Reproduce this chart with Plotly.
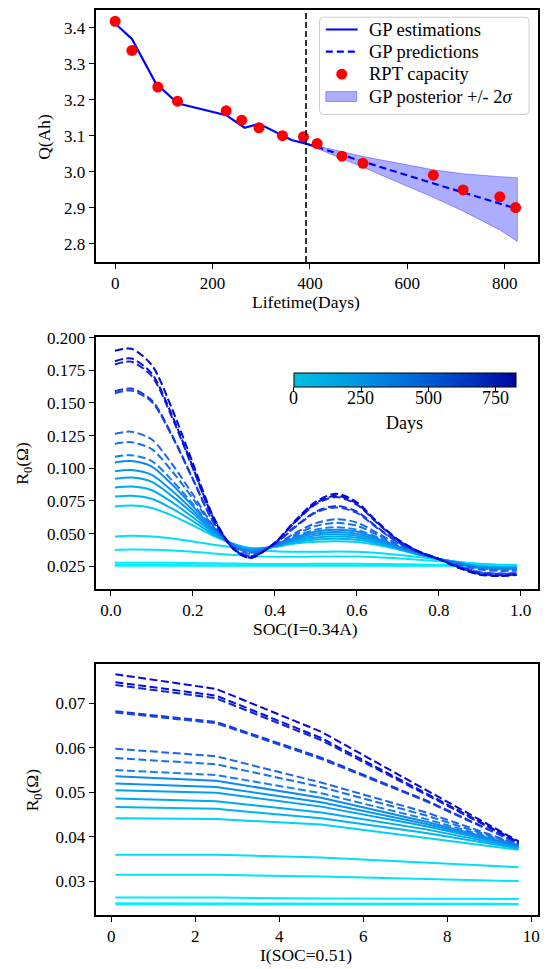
import plotly.graph_objects as go
from plotly.colors import sample_colorscale

W, H = 551, 969
FONT = "Liberation Serif, Times New Roman, Times, serif"
TICK_SIZE = 17
LABEL_SIZE = 17.5
LEGEND_SIZE = 18.5
CBAR_SIZE = 18

# ---------------- Panel 1 data ----------------
rpt_days = [0, 34.5, 87.7, 128, 228, 260, 295.5, 343.6, 386.8, 414.8, 465.8, 509, 653.5, 714.6, 790, 822.4]
rpt_q = [3.418, 3.337, 3.235, 3.196, 3.169, 3.143, 3.122, 3.100, 3.097, 3.078, 3.043, 3.023, 2.990, 2.949, 2.930, 2.900]

est_days = [0, 34.5, 83, 128, 228, 266, 296, 344, 362, 392]
est_q = [3.412, 3.369, 3.247, 3.190, 3.157, 3.122, 3.133, 3.099, 3.088, 3.078]

pred_days = [392, 415, 466, 509, 654, 715, 790, 822]
pred_q = [3.078, 3.068, 3.047, 3.028, 2.967, 2.942, 2.912, 2.898]

band_days = [392, 415, 466, 509, 654, 715, 790, 826]
band_upper = [3.079, 3.072, 3.056, 3.042, 3.005, 2.994, 2.986, 2.983]
band_lower = [3.077, 3.063, 3.036, 3.012, 2.928, 2.890, 2.838, 2.806]

split_day = 392

legend_labels = ["GP estimations", "GP predictions", "RPT capacity", "GP posterior +/- 2<i>σ</i>"]

# ---------------- Curves (days, solid = estimation, dashed = prediction) ----------------
curve_days = [0, 15, 35, 60, 88, 128, 228, 260, 296, 344, 387,
              415, 466, 509, 600, 654, 715, 790, 822]
curve_dashed = [False] * 11 + [True] * 8

soc = [0.01, 0.05, 0.10, 0.15, 0.20, 0.25, 0.30, 0.34, 0.40, 0.45, 0.50,
       0.55, 0.60, 0.65, 0.70, 0.75, 0.80, 0.85, 0.90, 0.95, 0.99]

r0_soc = [
    [0.0254, 0.0254, 0.0254, 0.0254, 0.0254, 0.0254, 0.0254, 0.0254, 0.0254, 0.0254, 0.0254, 0.0254, 0.0254, 0.0253, 0.0253, 0.0253, 0.0253, 0.0253, 0.0252, 0.0252, 0.0252],
    [0.0259, 0.0259, 0.0259, 0.0259, 0.0258, 0.0258, 0.0258, 0.0257, 0.0257, 0.0257, 0.0257, 0.0257, 0.0257, 0.0257, 0.0256, 0.0256, 0.0256, 0.0255, 0.0255, 0.0254, 0.0254],
    [0.0276, 0.0277, 0.0277, 0.0276, 0.0274, 0.0272, 0.0270, 0.0268, 0.0267, 0.0267, 0.0268, 0.0269, 0.0268, 0.0267, 0.0265, 0.0263, 0.0261, 0.0259, 0.0257, 0.0256, 0.0256],
    [0.0375, 0.0377, 0.0376, 0.0370, 0.0360, 0.0348, 0.0336, 0.0328, 0.0322, 0.0322, 0.0324, 0.0325, 0.0324, 0.0319, 0.0311, 0.0300, 0.0288, 0.0277, 0.0268, 0.0262, 0.0260],
    [0.0478, 0.0483, 0.0478, 0.0462, 0.0440, 0.0415, 0.0393, 0.0378, 0.0365, 0.0361, 0.0361, 0.0362, 0.0360, 0.0352, 0.0338, 0.0320, 0.0300, 0.0282, 0.0266, 0.0258, 0.0256],
    [0.0708, 0.0714, 0.0696, 0.0637, 0.0562, 0.0482, 0.0420, 0.0390, 0.0397, 0.0424, 0.0438, 0.0442, 0.0436, 0.0413, 0.0379, 0.0339, 0.0305, 0.0280, 0.0252, 0.0245, 0.0246],
    [0.0783, 0.0790, 0.0767, 0.0690, 0.0595, 0.0494, 0.0418, 0.0385, 0.0399, 0.0434, 0.0455, 0.0460, 0.0452, 0.0424, 0.0384, 0.0341, 0.0305, 0.0278, 0.0249, 0.0242, 0.0243],
    [0.0852, 0.0860, 0.0832, 0.0738, 0.0625, 0.0505, 0.0416, 0.0380, 0.0401, 0.0443, 0.0470, 0.0477, 0.0468, 0.0434, 0.0389, 0.0343, 0.0305, 0.0276, 0.0246, 0.0239, 0.0240],
    [0.0920, 0.0929, 0.0896, 0.0785, 0.0655, 0.0516, 0.0414, 0.0375, 0.0403, 0.0452, 0.0486, 0.0495, 0.0484, 0.0444, 0.0394, 0.0345, 0.0305, 0.0274, 0.0243, 0.0236, 0.0237],
    [0.0978, 0.0987, 0.0950, 0.0826, 0.0680, 0.0525, 0.0412, 0.0370, 0.0405, 0.0460, 0.0500, 0.0512, 0.0499, 0.0453, 0.0398, 0.0347, 0.0305, 0.0272, 0.0240, 0.0233, 0.0234],
    [0.1045, 0.1055, 0.1013, 0.0874, 0.0710, 0.0535, 0.0410, 0.0364, 0.0407, 0.0470, 0.0516, 0.0530, 0.0515, 0.0463, 0.0402, 0.0349, 0.0305, 0.0270, 0.0237, 0.0230, 0.0231],
    [0.1088, 0.1100, 0.1055, 0.0905, 0.0728, 0.0540, 0.0408, 0.0360, 0.0408, 0.0478, 0.0530, 0.0548, 0.0530, 0.0472, 0.0406, 0.0350, 0.0305, 0.0268, 0.0234, 0.0226, 0.0227],
    [0.1187, 0.1200, 0.1146, 0.0975, 0.0770, 0.0552, 0.0403, 0.0352, 0.0410, 0.0493, 0.0558, 0.0582, 0.0560, 0.0490, 0.0414, 0.0353, 0.0305, 0.0265, 0.0229, 0.0220, 0.0221],
    [0.1265, 0.1280, 0.1220, 0.1030, 0.0800, 0.0560, 0.0400, 0.0345, 0.0410, 0.0505, 0.0580, 0.0610, 0.0585, 0.0505, 0.0420, 0.0355, 0.0305, 0.0262, 0.0224, 0.0214, 0.0216],
    [0.1575, 0.1595, 0.1508, 0.1242, 0.0915, 0.0588, 0.0386, 0.0326, 0.0419, 0.0550, 0.0660, 0.0700, 0.0658, 0.0542, 0.0433, 0.0357, 0.0305, 0.0250, 0.0204, 0.0194, 0.0198],
    [0.1590, 0.1610, 0.1520, 0.1250, 0.0920, 0.0590, 0.0385, 0.0325, 0.0420, 0.0555, 0.0668, 0.0712, 0.0668, 0.0548, 0.0436, 0.0358, 0.0305, 0.0248, 0.0202, 0.0192, 0.0196],
    [0.1795, 0.1815, 0.1705, 0.1385, 0.1000, 0.0615, 0.0380, 0.0316, 0.0426, 0.0588, 0.0725, 0.0780, 0.0722, 0.0580, 0.0450, 0.0363, 0.0305, 0.0240, 0.0190, 0.0180, 0.0186],
    [0.1820, 0.1840, 0.1725, 0.1400, 0.1010, 0.0620, 0.0380, 0.0315, 0.0428, 0.0592, 0.0733, 0.0790, 0.0730, 0.0585, 0.0452, 0.0364, 0.0305, 0.0238, 0.0188, 0.0178, 0.0184],
    [0.1900, 0.1915, 0.1790, 0.1450, 0.1040, 0.0630, 0.0380, 0.0312, 0.0430, 0.0600, 0.0745, 0.0805, 0.0740, 0.0590, 0.0455, 0.0365, 0.0305, 0.0235, 0.0185, 0.0175, 0.0182],
]

current = [0.1, 2.5, 5.0, 7.5, 9.7]
r0_cur = [
    [0.0249, 0.0249, 0.0249, 0.0249, 0.0249],
    [0.0251, 0.0251, 0.0251, 0.0250, 0.0250],
    [0.0264, 0.0264, 0.0262, 0.0262, 0.0261],
    [0.0315, 0.0315, 0.0311, 0.0305, 0.0301],
    [0.0360, 0.0360, 0.0354, 0.0342, 0.0332],
    [0.0442, 0.0440, 0.0428, 0.0398, 0.0371],
    [0.0467, 0.0463, 0.0442, 0.0409, 0.0374],
    [0.0486, 0.0480, 0.0455, 0.0417, 0.0376],
    [0.0505, 0.0499, 0.0468, 0.0424, 0.0378],
    [0.0520, 0.0512, 0.0478, 0.0429, 0.0379],
    [0.0536, 0.0526, 0.0488, 0.0434, 0.0380],
    [0.0550, 0.0539, 0.0498, 0.0440, 0.0381],
    [0.0577, 0.0563, 0.0512, 0.0448, 0.0382],
    [0.0598, 0.0581, 0.0522, 0.0455, 0.0383],
    [0.0679, 0.0655, 0.0575, 0.0480, 0.0385],
    [0.0682, 0.0658, 0.0578, 0.0482, 0.0386],
    [0.0741, 0.0711, 0.0617, 0.0495, 0.0387],
    [0.0747, 0.0717, 0.0622, 0.0498, 0.0388],
    [0.0765, 0.0732, 0.0636, 0.0505, 0.0390],
]

cbar_ticks = [0, 250, 500, 750]
day_max = 826

# ---------------- styling ----------------
line_scale = [[0.0, "#00f2ff"], [0.1, "#00e0f8"], [0.2, "#00c4f2"], [0.35, "#00a2f0"],
              [0.5, "#1580f0"], [0.65, "#1e5eec"], [0.8, "#1538e4"], [1.0, "#0505d8"]]
bar_scale = [[0.0, "#00c0e0"], [0.33, "#0090e4"], [0.66, "#0050d0"], [1.0, "#0008a0"]]
BAND_FILL = "rgba(0,0,255,0.32)"
BAND_EDGE = "rgba(0,0,255,0.35)"


def px_x(p):
    return p / W


def px_y(p):
    return 1 - p / H


left, right = 96, 539.5
dom_x = [px_x(left), px_x(right)]
dom_y1 = [px_y(256), px_y(2.4)]
dom_y2 = [px_y(585.5), px_y(331.5)]
dom_y3 = [px_y(914.5), px_y(661)]

fig = go.Figure()

# Panel 1
fig.add_trace(go.Scatter(
    x=band_days + band_days[::-1], y=band_upper + band_lower[::-1],
    fill="toself", fillcolor=BAND_FILL, mode="lines",
    line=dict(color=BAND_EDGE, width=1), showlegend=False, xaxis="x", yaxis="y"))
fig.add_trace(go.Scatter(
    x=est_days, y=est_q, mode="lines", line=dict(color="#0000ff", width=2.2),
    showlegend=False, xaxis="x", yaxis="y"))
fig.add_trace(go.Scatter(
    x=pred_days, y=pred_q, mode="lines", line=dict(color="#0000ff", width=2.2, dash="7px,4px"),
    showlegend=False, xaxis="x", yaxis="y"))
fig.add_trace(go.Scatter(
    x=rpt_days, y=rpt_q, mode="markers", marker=dict(color="#ff0000", size=11),
    showlegend=False, xaxis="x", yaxis="y"))

fig.add_shape(type="line", xref="x", yref="paper", x0=split_day, x1=split_day,
              y0=dom_y1[0], y1=dom_y1[1], line=dict(color="black", width=1.6, dash="6px,3px"))

# Panels 2 and 3
for i, d in enumerate(curve_days):
    col = sample_colorscale(line_scale, [d / day_max])[0]
    dash = "8px,3.5px" if curve_dashed[i] else "solid"
    fig.add_trace(go.Scatter(
        x=soc, y=r0_soc[i], mode="lines", line=dict(color=col, width=2, dash=dash, shape="spline", smoothing=0.8),
        showlegend=False, xaxis="x2", yaxis="y2", hoverinfo="skip"))
    fig.add_trace(go.Scatter(
        x=current, y=r0_cur[i], mode="lines", line=dict(color=col, width=2, dash=dash),
        showlegend=False, xaxis="x3", yaxis="y3", hoverinfo="skip"))

# colorbar (gradient + ticks; labels as annotations below)
cb_left, cb_len = 295, 222.3
fig.add_trace(go.Scatter(
    x=[0.5, 0.5], y=[0.1, 0.1], mode="markers", xaxis="x2", yaxis="y2", showlegend=False,
    hoverinfo="skip",
    marker=dict(size=0.1, opacity=0, color=[0, day_max], cmin=0, cmax=day_max,
                colorscale=bar_scale, showscale=True,
                colorbar=dict(orientation="h", x=px_x(cb_left), xanchor="left", y=px_y(368.3), yanchor="top",
                              lenmode="pixels", len=cb_len, thickness=14, thicknessmode="pixels",
                              outlinewidth=1, outlinecolor="black",
                              tickvals=cbar_ticks, ticks="outside", ticklen=5, tickwidth=1.3,
                              tickcolor="black", showticklabels=False,
                              xpad=0, ypad=0))))
for t in cbar_ticks:
    fig.add_annotation(xref="paper", yref="paper", showarrow=False, xanchor="center", yanchor="middle",
                       x=px_x(cb_left + t / day_max * cb_len), y=px_y(393.5), text=str(t),
                       font=dict(family=FONT, size=CBAR_SIZE, color="black"))
fig.add_annotation(xref="paper", yref="paper", showarrow=False, xanchor="center", yanchor="middle",
                   x=px_x(cb_left + cb_len / 2), y=px_y(418), text="Days",
                   font=dict(family=FONT, size=CBAR_SIZE, color="black"))

# manual legend
lg_l, lg_r, lg_t, lg_b, rad = 320.7, 531, 9.3, 107.3, 4


def rounded_rect(x0, y0, x1, y1, r):
    X = px_x
    Y = px_y
    return (f"M {X(x0 + r)},{Y(y0)} L {X(x1 - r)},{Y(y0)} Q {X(x1)},{Y(y0)} {X(x1)},{Y(y0 + r)} "
            f"L {X(x1)},{Y(y1 - r)} Q {X(x1)},{Y(y1)} {X(x1 - r)},{Y(y1)} "
            f"L {X(x0 + r)},{Y(y1)} Q {X(x0)},{Y(y1)} {X(x0)},{Y(y1 - r)} "
            f"L {X(x0)},{Y(y0 + r)} Q {X(x0)},{Y(y0)} {X(x0 + r)},{Y(y0)} Z")


fig.add_shape(type="path", xref="paper", yref="paper", path=rounded_rect(lg_l, lg_t, lg_r, lg_b, rad),
              fillcolor="rgba(255,255,255,0.85)", line=dict(color="#cccccc", width=1), layer="above")
rows = [21.7, 44.0, 66.7, 89.3]
sx0, sx1 = 327, 359
fig.add_shape(type="line", xref="paper", yref="paper", x0=px_x(sx0), x1=px_x(sx1), y0=px_y(rows[0]),
              y1=px_y(rows[0]), line=dict(color="#0000ff", width=2.2), layer="above")
fig.add_shape(type="line", xref="paper", yref="paper", x0=px_x(sx0), x1=px_x(sx1), y0=px_y(rows[1]),
              y1=px_y(rows[1]), line=dict(color="#0000ff", width=2.2, dash="7px,4px"), layer="above")
fig.add_shape(type="circle", xref="paper", yref="paper", x0=px_x(343 - 5.5), x1=px_x(343 + 5.5),
              y0=px_y(rows[2] - 5.5), y1=px_y(rows[2] + 5.5), fillcolor="#ff0000",
              line=dict(color="#ff0000", width=0), layer="above")
fig.add_shape(type="rect", xref="paper", yref="paper", x0=px_x(sx0), x1=px_x(358), y0=px_y(rows[3] - 5),
              y1=px_y(rows[3] + 5), fillcolor=BAND_FILL, line=dict(color=BAND_EDGE, width=1), layer="above")
for r, lab in zip(rows, legend_labels):
    fig.add_annotation(xref="paper", yref="paper", showarrow=False, xanchor="left", yanchor="middle",
                       x=px_x(368), y=px_y(r), text=lab,
                       font=dict(family=FONT, size=LEGEND_SIZE, color="black"))

axis_common = dict(showline=True, mirror=True, linecolor="black", linewidth=1.8,
                   ticks="outside", ticklen=5, tickwidth=1.3, tickcolor="black",
                   showgrid=False, zeroline=False,
                   tickfont=dict(family=FONT, size=TICK_SIZE, color="black"))

fig.update_layout(
    width=W, height=H, margin=dict(l=0, r=0, t=0, b=0),
    paper_bgcolor="white", plot_bgcolor="white", showlegend=False,
    font=dict(family=FONT, size=TICK_SIZE, color="black"),
    xaxis=dict(domain=dom_x, anchor="y", range=[-40, 867.5], tickvals=[0, 200, 400, 600, 800], **axis_common),
    yaxis=dict(domain=dom_y1, anchor="x", range=[2.749, 3.4484], tickvals=[2.8, 2.9, 3.0, 3.1, 3.2, 3.3, 3.4],
               tickformat=".1f", **axis_common),
    xaxis2=dict(domain=dom_x, anchor="y2", range=[-0.037, 1.041], tickvals=[0, 0.2, 0.4, 0.6, 0.8, 1.0],
                tickformat=".1f", **axis_common),
    yaxis2=dict(domain=dom_y2, anchor="x2", range=[0.0078, 0.2007],
                tickvals=[0.025, 0.05, 0.075, 0.1, 0.125, 0.15, 0.175, 0.2], tickformat=".3f", **axis_common),
    xaxis3=dict(domain=dom_x, anchor="y3", range=[-0.37, 10.15], tickvals=[0, 2, 4, 6, 8, 10], **axis_common),
    yaxis3=dict(domain=dom_y3, anchor="x3", range=[0.0225, 0.0789], tickvals=[0.03, 0.04, 0.05, 0.06, 0.07],
                tickformat=".2f", **axis_common),
)

cx = 307
annots = [
    dict(text="Q(Ah)", x=px_x(44), y=px_y(130), textangle=-90),
    dict(text="Lifetime(Days)", x=px_x(cx), y=px_y(296)),
    dict(text="R<sub>0</sub>(Ω)", x=px_x(24), y=px_y(458.5), textangle=-90),
    dict(text="SOC(I=0.34A)", x=px_x(cx), y=px_y(626)),
    dict(text="R<sub>0</sub>(Ω)", x=px_x(34), y=px_y(788), textangle=-90),
    dict(text="I(SOC=0.51)", x=px_x(cx), y=px_y(955)),
]
for a in annots:
    fig.add_annotation(xref="paper", yref="paper", showarrow=False, xanchor="center", yanchor="middle",
                       font=dict(family=FONT, size=LABEL_SIZE, color="black"), **a)

fig.write_html("out.html")
